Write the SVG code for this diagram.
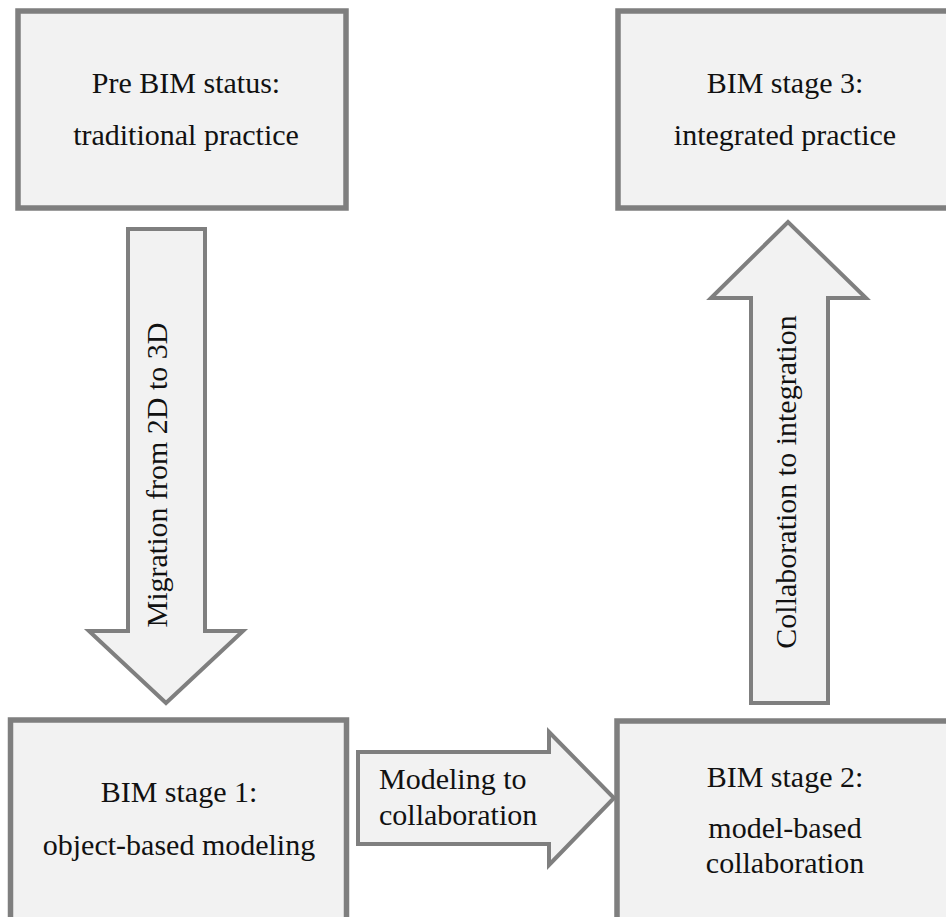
<svg xmlns="http://www.w3.org/2000/svg" width="946" height="917" viewBox="0 0 946 917">
<style>
.box{fill:#f2f2f2;stroke:#7f7f7f;stroke-width:5.5;}
.arrow{fill:#f2f2f2;stroke:#7f7f7f;stroke-width:4;stroke-linejoin:miter;}
text{font-family:"Liberation Serif","Times New Roman",serif;font-size:30px;fill:#111;}
.c{text-anchor:middle;}
</style>
<rect width="946" height="917" fill="#ffffff"/>
<g id="connectors">
  <g id="arrow-migration">
    <polygon class="arrow" points="128,229 205,229 205,631 243,631 166,703 89,631 128,631"/>
    <text class="c" transform="translate(167,475) rotate(-90)">Migration from 2D to 3D</text>
  </g>
  <g id="arrow-modeling">
    <polygon class="arrow" points="358,752 549,752 549,732 614,798 549,865 549,844 358,844"/>
    <text x="379" y="789">Modeling to</text>
    <text x="379" y="825">collaboration</text>
  </g>
  <g id="arrow-collab">
    <polygon class="arrow" points="751,703 751,298 711,298 788,222 866,298 828,298 828,703"/>
    <text class="c" transform="translate(796,482) rotate(-90)">Collaboration to integration</text>
  </g>
</g>
<g id="node-pre-bim">
  <rect class="box" x="18" y="11" width="328" height="197"/>
  <text class="c" x="186" y="93">Pre BIM status:</text>
  <text class="c" x="186" y="145">traditional practice</text>
</g>
<g id="node-stage3">
  <rect class="box" x="618" y="11" width="340" height="197"/>
  <text class="c" x="785" y="93">BIM stage 3:</text>
  <text class="c" x="785" y="145">integrated practice</text>
</g>
<g id="node-stage1">
  <rect class="box" x="10.5" y="720" width="336" height="210"/>
  <text class="c" x="179" y="802">BIM stage 1:</text>
  <text class="c" x="179" y="855">object-based modeling</text>
</g>
<g id="node-stage2">
  <rect class="box" x="617" y="721" width="340" height="210"/>
  <text class="c" x="785" y="787">BIM stage 2:</text>
  <text class="c" x="785" y="838">model-based</text>
  <text class="c" x="785" y="873">collaboration</text>
</g>
</svg>
